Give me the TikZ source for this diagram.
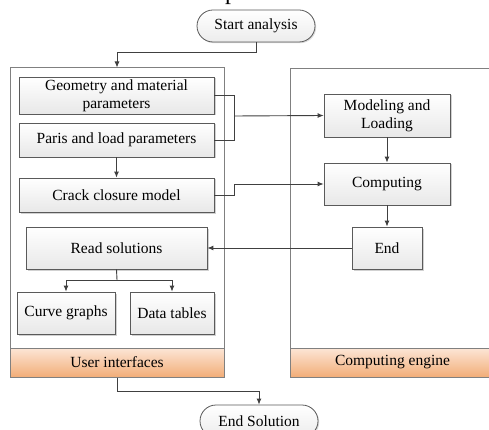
\documentclass[tikz,border=0pt]{standalone}
\usepackage{fontspec}
\setmainfont{Liberation Serif}
\usetikzlibrary{shadows,arrows.meta}
\definecolor{boxline}{HTML}{5A5A5A}
\definecolor{frameline}{HTML}{808080}
\definecolor{arrowc}{HTML}{404040}
\definecolor{bandtop}{HTML}{FCE6D6}
\definecolor{bandbot}{HTML}{F2AD78}
\tikzset{
  procbox/.style={draw=boxline, line width=0.8pt, top color=white, bottom color=gray!18,
    inner sep=0pt, align=center, font=\fontsize{15.5}{18}\selectfont,
    drop shadow={shadow xshift=1.5pt, shadow yshift=-1.5pt, fill=gray!45, opacity=0.8}},
  pill/.style={draw=boxline, line width=0.8pt, top color=white, bottom color=gray!15,
    inner sep=0pt, minimum width=118pt, minimum height=32pt, rounded corners=16pt,
    font=\fontsize{15.5}{18}\selectfont,
    drop shadow={shadow xshift=1.2pt, shadow yshift=-1.2pt, fill=gray!40, opacity=0.7}},
  frame/.style={draw=frameline, line width=1pt, fill=white},
  band/.style={draw=frameline, line width=1pt, top color=bandtop, bottom color=bandbot,
    inner sep=0pt, font=\fontsize{15.5}{18}\selectfont},
  conn/.style={draw=arrowc, line width=0.9pt, -{Latex[length=6pt,width=5pt]}},
  plain/.style={draw=arrowc, line width=0.9pt},
}
\begin{document}
\begin{tikzpicture}[x=1pt,y=-1pt]
\clip (0,0) rectangle (489,430);
\fill[white] (0,0) rectangle (489,430);
% caption fragment (cut off at the top edge, as in the reference)
\node[anchor=base, font=\fontsize{24}{28}\selectfont, inner sep=0pt] (cap) at (231,-0.5) {p};
% containers
\node[frame, minimum width=214pt, minimum height=309pt, inner sep=0pt] (left) at (117,222.5) {};
\node[frame, minimum width=205pt, minimum height=308pt, inner sep=0pt] (right) at (392.5,223) {};
\node[band, minimum width=214pt, minimum height=29pt] (uiband) at (117,362.5) {User interfaces};
\node[band, minimum width=205pt, minimum height=29pt] (ceband) at (392.5,362.5) {Computing engine};
% terminal nodes
\node[pill] (start) at (256,26) {Start analysis};
\node[pill] (endsol) at (259,421) {End Solution};
% left boxes
\node[procbox, minimum width=195pt, minimum height=37pt] (geo) at (116.5,95.5) {Geometry and material\\parameters};
\node[procbox, minimum width=195pt, minimum height=34pt] (paris) at (116.5,140) {Paris and load parameters};
\node[procbox, minimum width=195pt, minimum height=34pt] (crack) at (116.5,195) {Crack closure model};
\node[procbox, minimum width=181pt, minimum height=42pt] (read) at (116.5,248) {Read solutions};
\node[procbox, minimum width=98pt, minimum height=42pt] (curve) at (66,313) {Curve graphs};
\node[procbox, minimum width=84pt, minimum height=42pt] (data) at (172,313) {Data tables};
% right boxes
\node[procbox, minimum width=126pt, minimum height=43pt] (model) at (387,115.5) {Modeling and\\Loading};
\node[procbox, minimum width=126pt, minimum height=42pt] (comp) at (387,184) {Computing};
\node[procbox, minimum width=70pt, minimum height=42pt] (end) at (387,248) {End};
% junction coordinates
\coordinate (j1) at (234,116);
\coordinate (j2) at (234,184);
\coordinate (s1) at (256,52);
\coordinate (r1) at (117,280);
\coordinate (u1) at (117,391);
% connectors
\draw[conn] (start.south) -- (s1) -| (left.north);
\draw[plain] (geo.east) -| (j1);
\draw[plain] (paris.east) -| (j1);
\draw[conn] (j1) -- (model.west);
\draw[conn] (paris.south) -- (crack.north);
\draw[plain] (crack.east) -| (j2);
\draw[conn] (j2) -- (comp.west);
\draw[conn] (model.south) -- (comp.north);
\draw[conn] (comp.south) -- (end.north);
\draw[conn] (end.west) -- (read.east);
\draw[plain] (read.south) -- (r1);
\draw[conn] (r1) -| (curve.north);
\draw[conn] (r1) -| (data.north);
\draw[conn] (uiband.south) -- (u1) -| (endsol.north);
\end{tikzpicture}
\end{document}
